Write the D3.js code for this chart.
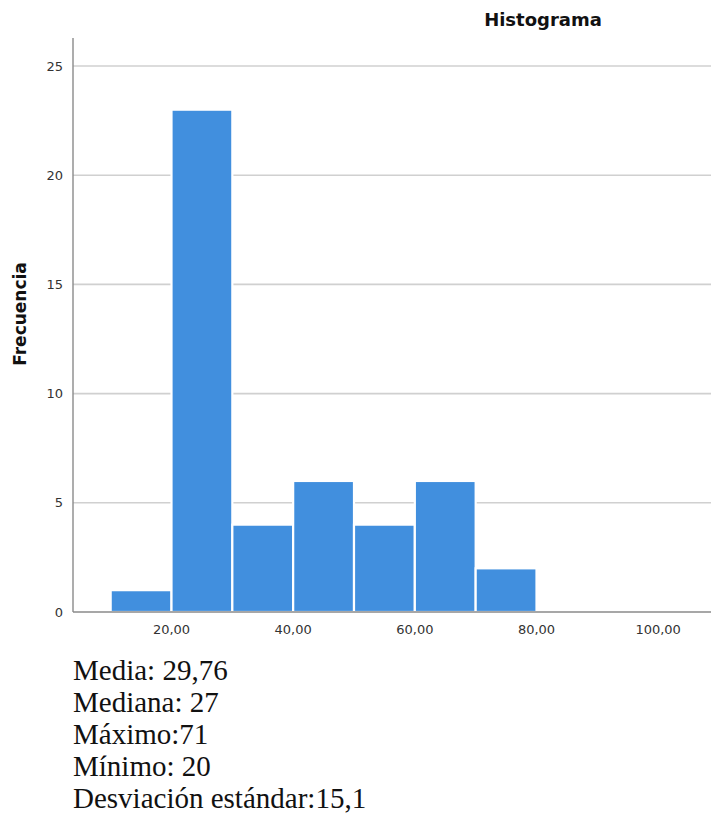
<!DOCTYPE html>
<html><head><meta charset="utf-8">
<script src="https://cdn.jsdelivr.net/npm/d3@7"></script>
<style>
body{margin:0;background:#fff;}
svg{display:block;}
</style>
</head><body>
<script>
const binStarts = [10, 20, 30, 40, 50, 60, 70];
const binEnds = [20, 30, 40, 50, 60, 70, 80];
const frequencies = [1, 23, 4, 6, 4, 6, 2];
const yTicks = [0, 5, 10, 15, 20, 25];
const xTicks = [20, 40, 60, 80, 100];
const xTickLabels = ["20,00", "40,00", "60,00", "80,00", "100,00"];
const statsLines = ["Media: 29,76", "Mediana: 27", "Máximo:71", "Mínimo: 20", "Desviación estándar:15,1"];
const titleText = "Histograma";
const yLabel = "Frecuencia";

(function(){
const W = 711, H = 820;
const svg = d3.select("body").append("svg").attr("width", W).attr("height", H);

const x = d3.scaleLinear().domain([20, 80]).range([171.5, 536.5]);
const y = d3.scaleLinear().domain([0, 25]).range([612, 66]);
const plotLeft = 73, plotRight = 711, plotTop = 38;

// gridlines
svg.append("g").selectAll("line").data(yTicks.filter(d => d > 0)).join("line")
  .attr("x1", plotLeft).attr("x2", plotRight)
  .attr("y1", d => y(d)).attr("y2", d => y(d))
  .attr("stroke", "#d0d0d0").attr("stroke-width", 1.6);

// bars
svg.append("g").selectAll("rect").data(frequencies).join("rect")
  .attr("x", (d, i) => x(binStarts[i]))
  .attr("width", (d, i) => x(binEnds[i]) - x(binStarts[i]))
  .attr("y", d => y(d))
  .attr("height", d => y(0) - y(d))
  .attr("fill", "#418fde")
  .attr("stroke", "#ffffff").attr("stroke-width", 2.2);

// axes lines
svg.append("line").attr("x1", plotLeft).attr("x2", plotLeft).attr("y1", plotTop).attr("y2", y(0))
  .attr("stroke", "#8a8a8a").attr("stroke-width", 1.4);
svg.append("line").attr("x1", plotLeft).attr("x2", plotRight).attr("y1", y(0)).attr("y2", y(0))
  .attr("stroke", "#8a8a8a").attr("stroke-width", 1.4);

// y tick labels
svg.append("g").selectAll("text").data(yTicks).join("text")
  .attr("x", 63).attr("y", d => y(d)).attr("dy", "0.35em")
  .attr("text-anchor", "end")
  .attr("font-family", "DejaVu Sans, sans-serif").attr("font-size", 13)
  .attr("fill", "#333")
  .text(d => d);

// x tick labels
svg.append("g").selectAll("text").data(xTicks).join("text")
  .attr("x", d => x(d)).attr("y", 634)
  .attr("text-anchor", "middle")
  .attr("font-family", "DejaVu Sans, sans-serif").attr("font-size", 13)
  .attr("fill", "#333")
  .text((d, i) => xTickLabels[i]);

// title
svg.append("text").attr("x", 543).attr("y", 26).attr("text-anchor", "middle")
  .attr("font-family", "DejaVu Sans, sans-serif").attr("font-weight", "bold")
  .attr("font-size", 18).attr("fill", "#111").text(titleText);

// y label
svg.append("text").attr("transform", "translate(26,314) rotate(-90)")
  .attr("text-anchor", "middle")
  .attr("font-family", "DejaVu Sans, sans-serif").attr("font-weight", "bold")
  .attr("font-size", 17).attr("fill", "#111").text(yLabel);

// stats
svg.append("g").selectAll("text").data(statsLines).join("text")
  .attr("x", 73).attr("y", (d, i) => 680 + i * 32)
  .attr("font-family", "Liberation Serif, Times New Roman, serif")
  .attr("font-size", 29).attr("fill", "#111")
  .text(d => d);
})();
</script>
</body></html>
